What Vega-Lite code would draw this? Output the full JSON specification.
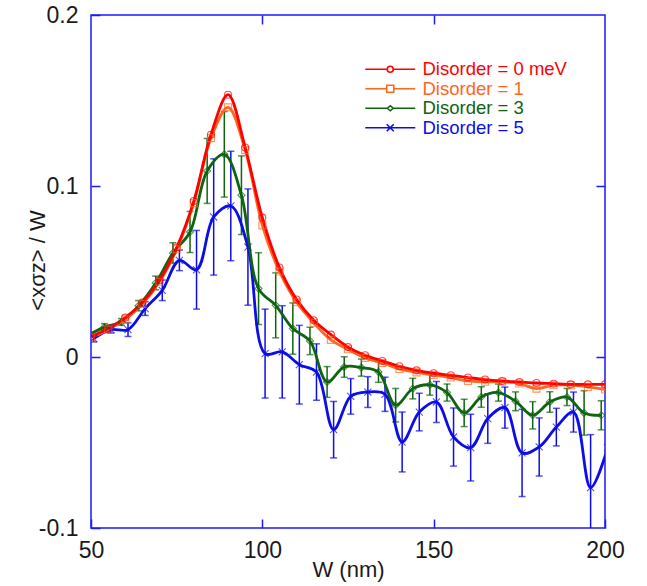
{
  "$schema": "https://vega.github.io/schema/vega-lite/v6.json",
  "width": 514,
  "height": 513,
  "autosize": {"type": "none"},
  "padding": {"left": 91, "top": 15, "right": 42, "bottom": 58},
  "background": "white",
  "config": {
    "view": {"stroke": "#1a1aff", "strokeWidth": 1.5},
    "font": "Liberation Sans",
    "axis": {"labelFont": "Liberation Sans", "titleFont": "Liberation Sans", "labelFontSize": 23, "titleFontSize": 22, "labelColor": "#1a1a1a", "titleColor": "#1a1a1a", "titleFontWeight": "normal", "grid": false, "domain": false, "tickColor": "#1a1aff", "tickWidth": 1.5, "tickSize": -9, "labelFlush": false},
    "legend": {"labelFont": "Liberation Sans"}
  },
  "data": {"values": [
    {"s":"Disorder = 5","W":50.8,"v":0.0108,"lo":0.0088,"hi":0.0128},
    {"s":"Disorder = 5","W":55.8,"v":0.016,"lo":0.014,"hi":0.018},
    {"s":"Disorder = 5","W":60.8,"v":0.016,"lo":0.012,"hi":0.020},
    {"s":"Disorder = 5","W":65.8,"v":0.0283,"lo":0.0243,"hi":0.0323},
    {"s":"Disorder = 5","W":70.8,"v":0.039,"lo":0.033,"hi":0.045},
    {"s":"Disorder = 5","W":75.8,"v":0.0565,"lo":0.0505,"hi":0.0625},
    {"s":"Disorder = 5","W":80.8,"v":0.051,"lo":0.028,"hi":0.074},
    {"s":"Disorder = 5","W":85.8,"v":0.0819,"lo":0.0479,"hi":0.1159},
    {"s":"Disorder = 5","W":90.8,"v":0.0883,"lo":0.0563,"hi":0.1203},
    {"s":"Disorder = 5","W":95.8,"v":0.0643,"lo":0.0303,"hi":0.0983},
    {"s":"Disorder = 5","W":100.8,"v":0.002,"lo":-0.024,"hi":0.028},
    {"s":"Disorder = 5","W":105.8,"v":0.003,"lo":-0.024,"hi":0.030},
    {"s":"Disorder = 5","W":110.8,"v":-0.0045,"lo":-0.0275,"hi":0.0185},
    {"s":"Disorder = 5","W":115.8,"v":-0.0088,"lo":-0.0253,"hi":0.0077},
    {"s":"Disorder = 5","W":120.8,"v":-0.0425,"lo":-0.059,"hi":-0.026},
    {"s":"Disorder = 5","W":125.8,"v":-0.023,"lo":-0.0334,"hi":-0.0126},
    {"s":"Disorder = 5","W":130.8,"v":-0.0205,"lo":-0.0295,"hi":-0.0115},
    {"s":"Disorder = 5","W":135.8,"v":-0.0218,"lo":-0.0318,"hi":-0.0118},
    {"s":"Disorder = 5","W":140.8,"v":-0.0497,"lo":-0.0672,"hi":-0.0322},
    {"s":"Disorder = 5","W":145.8,"v":-0.0322,"lo":-0.0432,"hi":-0.0212},
    {"s":"Disorder = 5","W":150.8,"v":-0.0263,"lo":-0.0383,"hi":-0.0143},
    {"s":"Disorder = 5","W":155.8,"v":-0.0468,"lo":-0.0638,"hi":-0.0298},
    {"s":"Disorder = 5","W":160.8,"v":-0.053,"lo":-0.0725,"hi":-0.0335},
    {"s":"Disorder = 5","W":165.8,"v":-0.036,"lo":-0.0505,"hi":-0.0215},
    {"s":"Disorder = 5","W":170.8,"v":-0.0296,"lo":-0.0416,"hi":-0.0176},
    {"s":"Disorder = 5","W":175.8,"v":-0.0561,"lo":-0.0816,"hi":-0.0306},
    {"s":"Disorder = 5","W":180.8,"v":-0.0526,"lo":-0.0696,"hi":-0.0356},
    {"s":"Disorder = 5","W":185.8,"v":-0.041,"lo":-0.052,"hi":-0.030},
    {"s":"Disorder = 5","W":190.8,"v":-0.0322,"lo":-0.0439,"hi":-0.0205},
    {"s":"Disorder = 5","W":195.8,"v":-0.0764,"lo":-0.1074,"hi":-0.0454},
    {"s":"Disorder = 5","W":200.8,"v":-0.053},
    {"s":"Disorder = 3","W":48.9,"v":0.0125,"lo":0.0115,"hi":0.0135},
    {"s":"Disorder = 3","W":53.9,"v":0.0175,"lo":0.0155,"hi":0.0195},
    {"s":"Disorder = 3","W":58.9,"v":0.0205,"lo":0.0185,"hi":0.0225},
    {"s":"Disorder = 3","W":63.9,"v":0.030,"lo":0.027,"hi":0.033},
    {"s":"Disorder = 3","W":68.9,"v":0.0433,"lo":0.0393,"hi":0.0473},
    {"s":"Disorder = 3","W":73.9,"v":0.0608,"lo":0.0548,"hi":0.0668},
    {"s":"Disorder = 3","W":78.9,"v":0.0731,"lo":0.0611,"hi":0.0851},
    {"s":"Disorder = 3","W":83.9,"v":0.1088,"lo":0.0898,"hi":0.1278},
    {"s":"Disorder = 3","W":88.9,"v":0.1185,"lo":0.0935,"hi":0.1435},
    {"s":"Disorder = 3","W":93.9,"v":0.0946,"lo":0.0716,"hi":0.1176},
    {"s":"Disorder = 3","W":98.9,"v":0.040,"lo":0.019,"hi":0.061},
    {"s":"Disorder = 3","W":103.9,"v":0.0302,"lo":0.0112,"hi":0.0492},
    {"s":"Disorder = 3","W":108.9,"v":0.0166,"lo":0.0016,"hi":0.0316},
    {"s":"Disorder = 3","W":113.9,"v":0.0094,"lo":0.0014,"hi":0.0174},
    {"s":"Disorder = 3","W":118.9,"v":-0.0146,"lo":-0.0236,"hi":-0.0056},
    {"s":"Disorder = 3","W":123.9,"v":-0.0058,"lo":-0.0118,"hi":0.0002},
    {"s":"Disorder = 3","W":128.9,"v":-0.0062,"lo":-0.0112,"hi":-0.0012},
    {"s":"Disorder = 3","W":133.9,"v":-0.0088,"lo":-0.0148,"hi":-0.0028},
    {"s":"Disorder = 3","W":138.9,"v":-0.0282,"lo":-0.038,"hi":-0.0184},
    {"s":"Disorder = 3","W":143.9,"v":-0.0185,"lo":-0.0245,"hi":-0.0125},
    {"s":"Disorder = 3","W":148.9,"v":-0.0163,"lo":-0.0223,"hi":-0.0103},
    {"s":"Disorder = 3","W":153.9,"v":-0.0208,"lo":-0.0258,"hi":-0.0158},
    {"s":"Disorder = 3","W":158.9,"v":-0.0327,"lo":-0.0407,"hi":-0.0247},
    {"s":"Disorder = 3","W":163.9,"v":-0.0234,"lo":-0.0294,"hi":-0.0174},
    {"s":"Disorder = 3","W":168.9,"v":-0.0208,"lo":-0.0258,"hi":-0.0158},
    {"s":"Disorder = 3","W":173.9,"v":-0.0259,"lo":-0.0314,"hi":-0.0204},
    {"s":"Disorder = 3","W":178.9,"v":-0.0341,"lo":-0.0421,"hi":-0.0261},
    {"s":"Disorder = 3","W":183.9,"v":-0.0263,"lo":-0.0323,"hi":-0.0203},
    {"s":"Disorder = 3","W":188.9,"v":-0.0234,"lo":-0.0284,"hi":-0.0184},
    {"s":"Disorder = 3","W":193.9,"v":-0.0327,"lo":-0.0457,"hi":-0.0197},
    {"s":"Disorder = 3","W":198.9,"v":-0.0341,"lo":-0.0426,"hi":-0.0256},
    {"s":"Disorder = 1","W":50,"v":0.0115},
    {"s":"Disorder = 1","W":55,"v":0.016},
    {"s":"Disorder = 1","W":60,"v":0.022},
    {"s":"Disorder = 1","W":65,"v":0.031},
    {"s":"Disorder = 1","W":70,"v":0.044},
    {"s":"Disorder = 1","W":75,"v":0.063},
    {"s":"Disorder = 1","W":80,"v":0.090},
    {"s":"Disorder = 1","W":85,"v":0.128},
    {"s":"Disorder = 1","W":90,"v":0.146},
    {"s":"Disorder = 1","W":95,"v":0.121},
    {"s":"Disorder = 1","W":100,"v":0.077},
    {"s":"Disorder = 1","W":105,"v":0.050},
    {"s":"Disorder = 1","W":110,"v":0.032},
    {"s":"Disorder = 1","W":115,"v":0.020},
    {"s":"Disorder = 1","W":120,"v":0.010},
    {"s":"Disorder = 1","W":125,"v":0.0045},
    {"s":"Disorder = 1","W":130,"v":-0.0005},
    {"s":"Disorder = 1","W":135,"v":-0.0035},
    {"s":"Disorder = 1","W":140,"v":-0.007},
    {"s":"Disorder = 1","W":145,"v":-0.009},
    {"s":"Disorder = 1","W":150,"v":-0.0105},
    {"s":"Disorder = 1","W":155,"v":-0.012},
    {"s":"Disorder = 1","W":160,"v":-0.014},
    {"s":"Disorder = 1","W":165,"v":-0.0145},
    {"s":"Disorder = 1","W":170,"v":-0.0145},
    {"s":"Disorder = 1","W":175,"v":-0.0155},
    {"s":"Disorder = 1","W":180,"v":-0.0185},
    {"s":"Disorder = 1","W":185,"v":-0.0165},
    {"s":"Disorder = 1","W":190,"v":-0.0165},
    {"s":"Disorder = 1","W":195,"v":-0.0175},
    {"s":"Disorder = 1","W":200,"v":-0.019},
    {"s":"Disorder = 0 meV","W":50,"v":0.012},
    {"s":"Disorder = 0 meV","W":55,"v":0.0166},
    {"s":"Disorder = 0 meV","W":60,"v":0.023},
    {"s":"Disorder = 0 meV","W":65,"v":0.0318},
    {"s":"Disorder = 0 meV","W":70,"v":0.0449},
    {"s":"Disorder = 0 meV","W":75,"v":0.064},
    {"s":"Disorder = 0 meV","W":80,"v":0.0912},
    {"s":"Disorder = 0 meV","W":85,"v":0.130},
    {"s":"Disorder = 0 meV","W":90,"v":0.1534},
    {"s":"Disorder = 0 meV","W":95,"v":0.1225},
    {"s":"Disorder = 0 meV","W":100,"v":0.0815},
    {"s":"Disorder = 0 meV","W":105,"v":0.0523},
    {"s":"Disorder = 0 meV","W":110,"v":0.0336},
    {"s":"Disorder = 0 meV","W":115,"v":0.0215},
    {"s":"Disorder = 0 meV","W":120,"v":0.0131},
    {"s":"Disorder = 0 meV","W":125,"v":0.0058},
    {"s":"Disorder = 0 meV","W":130,"v":0.001},
    {"s":"Disorder = 0 meV","W":135,"v":-0.0023},
    {"s":"Disorder = 0 meV","W":140,"v":-0.0054},
    {"s":"Disorder = 0 meV","W":145,"v":-0.0078},
    {"s":"Disorder = 0 meV","W":150,"v":-0.0095},
    {"s":"Disorder = 0 meV","W":155,"v":-0.0107},
    {"s":"Disorder = 0 meV","W":160,"v":-0.012},
    {"s":"Disorder = 0 meV","W":165,"v":-0.0132},
    {"s":"Disorder = 0 meV","W":170,"v":-0.014},
    {"s":"Disorder = 0 meV","W":175,"v":-0.0146},
    {"s":"Disorder = 0 meV","W":180,"v":-0.0152},
    {"s":"Disorder = 0 meV","W":185,"v":-0.0156},
    {"s":"Disorder = 0 meV","W":190,"v":-0.016},
    {"s":"Disorder = 0 meV","W":195,"v":-0.016},
    {"s":"Disorder = 0 meV","W":200,"v":-0.016}
  ]},
  "resolve": {"axis": {"x": "independent", "y": "independent"}},
  "layer": [
    {
      "transform": [{"filter": "isValid(datum.lo)"}],
      "mark": {"type": "rule", "strokeWidth": 1.5, "clip": true},
      "encoding": {
        "x": {"field": "W", "type": "quantitative", "scale": {"domain": [50, 200], "nice": false, "zero": false},
              "axis": {"orient": "top", "values": [100, 150], "labels": false, "title": null}},
        "y": {"field": "lo", "type": "quantitative", "scale": {"domain": [-0.1, 0.2], "nice": false, "zero": false},
              "axis": {"orient": "right", "values": [0, 0.1], "labels": false, "title": null}},
        "y2": {"field": "hi"},
        "stroke": {"field": "s", "type": "nominal", "legend": null,
                   "scale": {"domain": ["Disorder = 5", "Disorder = 3", "Disorder = 1", "Disorder = 0 meV"], "range": ["#0d0de8", "#0f640f", "#ff6620", "#ff0000"]}}
      }
    },
    {
      "transform": [{"filter": "isValid(datum.lo)"}],
      "mark": {"type": "tick", "orient": "horizontal", "size": 7, "thickness": 1.5, "clip": true},
      "encoding": {
        "x": {"field": "W", "type": "quantitative", "axis": null},
        "y": {"field": "lo", "type": "quantitative", "axis": null},
        "fill": {"field": "s", "type": "nominal", "legend": null,
                 "scale": {"domain": ["Disorder = 5", "Disorder = 3", "Disorder = 1", "Disorder = 0 meV"], "range": ["#0d0de8", "#0f640f", "#ff6620", "#ff0000"]}}
      }
    },
    {
      "transform": [{"filter": "isValid(datum.hi)"}],
      "mark": {"type": "tick", "orient": "horizontal", "size": 7, "thickness": 1.5, "clip": true},
      "encoding": {
        "x": {"field": "W", "type": "quantitative", "axis": null},
        "y": {"field": "hi", "type": "quantitative", "axis": null},
        "fill": {"field": "s", "type": "nominal", "legend": null}
      }
    },
    {
      "mark": {"type": "line", "interpolate": "catmull-rom", "strokeWidth": 2.8, "clip": true},
      "encoding": {
        "x": {"field": "W", "type": "quantitative",
              "axis": {"orient": "bottom", "values": [50, 100, 150, 200], "title": "W (nm)", "labelPadding": 20, "titlePadding": -3}},
        "y": {"field": "v", "type": "quantitative",
              "axis": {"orient": "left", "values": [-0.1, 0, 0.1, 0.2], "labelPadding": 22,
                       "labelExpr": "datum.value == 0 ? '0' : (datum.value < 0 ? '-' + format(-datum.value, '.1f') : format(datum.value, '.1f'))",
                       "title": "<xσz> / W", "titleX": -54, "titleY": 245, "titleAlign": "center", "titleBaseline": "middle", "titleAngle": -90}},
        "color": {"field": "s", "type": "nominal",
                  "scale": {"domain": ["Disorder = 0 meV", "Disorder = 1", "Disorder = 3", "Disorder = 5"], "range": ["#ff0000", "#ff6620", "#0f640f", "#0d0de8"]},
                  "legend": {"title": null, "orient": "none", "legendX": 290, "legendY": 45, "padding": 0,
                             "symbolType": "stroke", "symbolSize": 100, "symbolStrokeWidth": 1.6, "labelFontSize": 18.5, "labelOffset": 23, "rowPadding": 0.5,
                             "encode": {
                               "symbols": {"update": {
                                 "shape": {"signal": "datum.value === 'Disorder = 0 meV' ? 'M-5,0L-0.6,0M0.6,0A0.6,0.6 0 1,1 -0.6,0A0.6,0.6 0 1,1 0.6,0M0.6,0L5,0' : datum.value === 'Disorder = 1' ? 'M-5,0L-0.7,0M-0.7,-0.7L0.7,-0.7L0.7,0.7L-0.7,0.7ZM0.7,0L5,0' : datum.value === 'Disorder = 3' ? 'M-5,0L-0.6,0L0,-0.5L0.6,0L0,0.5L-0.6,0M0.6,0L5,0' : 'M-5,0L5,0M-0.7,-0.7L0.7,0.7M-0.7,0.7L0.7,-0.7'"},
                                 "fill": {"value": "transparent"}}},
                               "labels": {"update": {"fill": {"scale": "color", "field": "value"}}}
                             }}}
      }
    },
    {
      "mark": {"type": "point", "filled": false, "strokeWidth": 1.1, "clip": true},
      "encoding": {
        "x": {"field": "W", "type": "quantitative", "axis": null},
        "y": {"field": "v", "type": "quantitative", "axis": null},
        "stroke": {"field": "s", "type": "nominal", "legend": null},
        "shape": {"field": "s", "type": "nominal", "legend": null,
                  "scale": {"domain": ["Disorder = 5", "Disorder = 3", "Disorder = 1", "Disorder = 0 meV"], "range": ["M-1,-1L1,1M-1,1L1,-1", "diamond", "square", "circle"]}},
        "size": {"field": "s", "type": "nominal", "legend": null,
                 "scale": {"domain": ["Disorder = 5", "Disorder = 3", "Disorder = 1", "Disorder = 0 meV"], "range": [50, 49, 64, 50]}}
      }
    }
  ]
}
